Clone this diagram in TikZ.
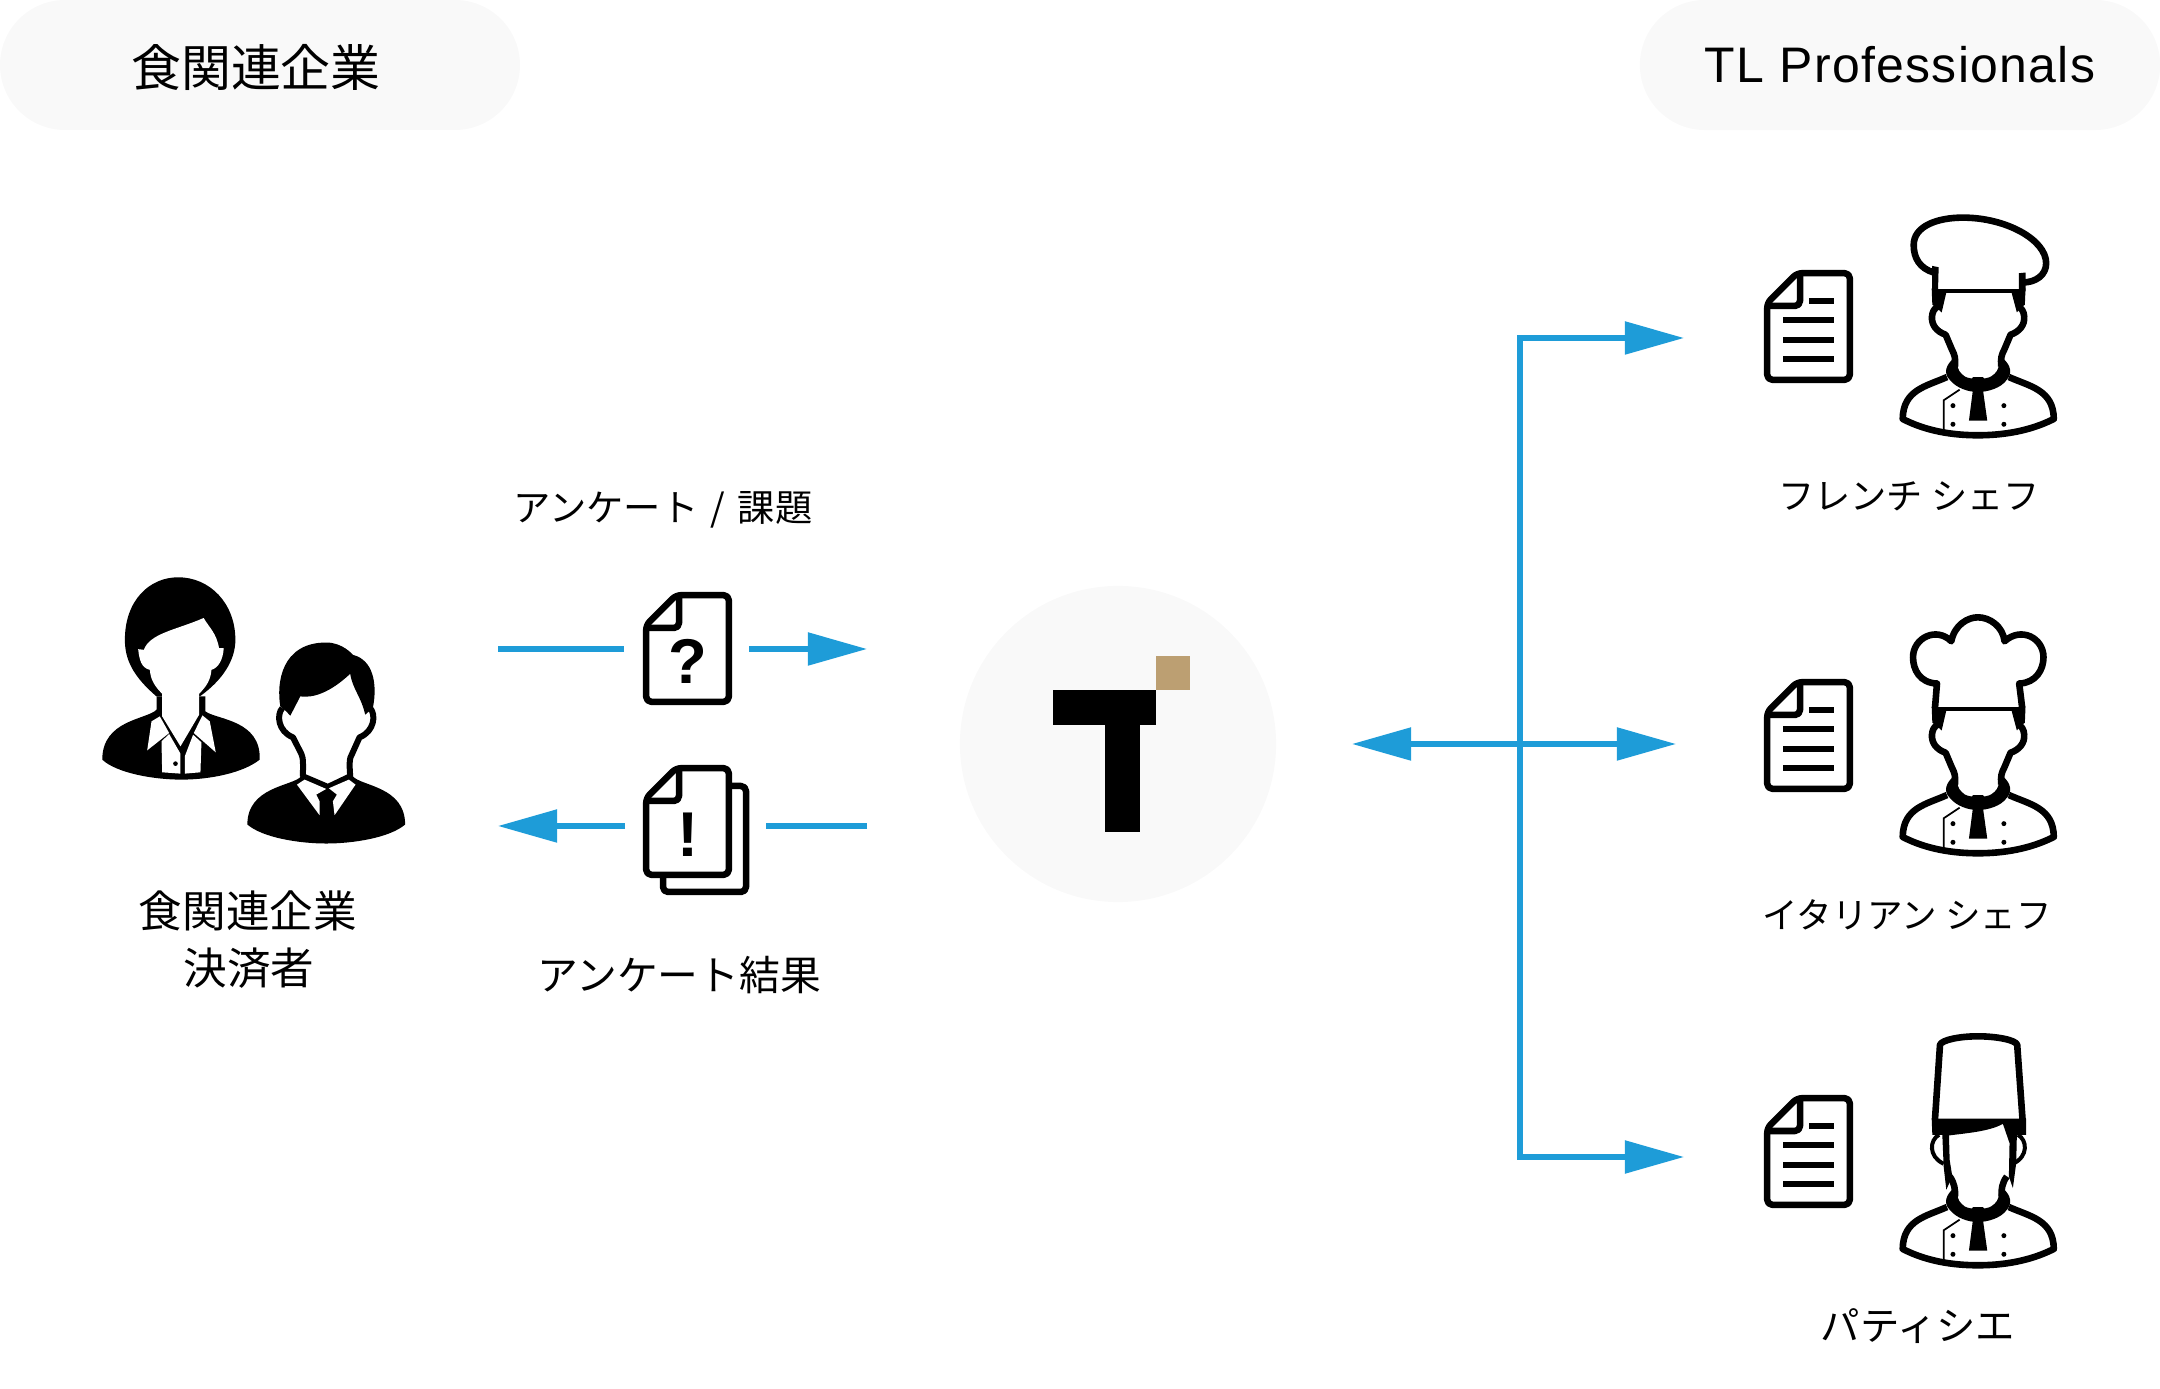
\documentclass[tikz,border=0pt]{standalone}
\usepackage{fontspec}
\setmainfont{Noto Sans CJK JP}
\newfontfamily\latinfont[LetterSpace=2.6]{Liberation Sans}
\newfontfamily\markfont{Liberation Sans}
\usepackage{xcolor}
\usetikzlibrary{arrows.meta,positioning}
\definecolor{flowblue}{HTML}{1E9CD8}
\definecolor{logotan}{HTML}{BC9F72}
\definecolor{softgray}{HTML}{F9F9F9}
\tikzset{
  zoomunit/.style={x=0.0033333cm,y=-0.0033333cm},
  pill/.style={fill=softgray,rounded corners=0.65cm,minimum width=5.2cm,minimum height=1.3cm,inner sep=0pt},
  caption/.style={font=\fontsize{10.3pt}{12pt}\selectfont,inner sep=0pt},
  flowline/.style={flowblue,line width=0.052cm},
  flowarrow/.style={flowline,-{Triangle[length=0.59cm,width=0.32cm]}},
  docline/.style={line width=0.065cm,rounded corners=0.05cm,line join=round},
  chefline/.style={line width=0.066cm,line join=round},
  docicon/.pic={
    \draw[docline,fill=white] (3.2,109.8) -- (85.8,109.8) -- (85.8,3.2) -- (33,3.2) -- (3.2,33) -- cycle;
    \draw[docline] (36,3.2) -- (36,36) -- (3.2,36);
  },
  doclines/.pic={
    \pic at (0,0) {docicon};
    \foreach \ly in {50,70,89} \draw[line width=0.06cm] (19,\ly) -- (70,\ly);
    \draw[line width=0.06cm] (45,31) -- (70,31);
  },
  % Shoulders, collar and tie of a chef
  chefbust/.pic={
    \begin{scope}[zoomunit]
    \draw[chefline] (682,562) .. controls (620,590) and (550,600) .. (549,688) .. controls (620,725) and (700,737) .. (775,737) .. controls (850,737) and (930,725) .. (1003,688) .. controls (1002,600) and (930,590) .. (868,562);
    \fill (700,508) .. controls (680,525) and (670,550) .. (690,570) .. controls (710,595) and (745,607) .. (775,607) .. controls (805,607) and (845,595) .. (862,570) .. controls (880,550) and (872,525) .. (852,508) -- (838,520) .. controls (838,540) and (830,550) .. (815,560) .. controls (800,570) and (750,570) .. (735,560) .. controls (722,550) and (712,540) .. (714,520) -- cycle;
    \fill (755,572) -- (760,562) -- (790,562) -- (797,572) -- (790,600) -- (803,693) -- (748,693) -- (760,600) -- cycle;
    \draw[line width=0.017cm] (720,600) -- (672,632) -- (672,724);
    \foreach \bx in {700,853} \foreach \by in {648,704} \fill (\bx,\by) circle (7.5);
    \end{scope}
  },
  % Outline of the face under a round hat
  chefface/.pic={
    \begin{scope}[zoomunit]
    \draw[chefline] (706,530) .. controls (708,505) and (705,495) .. (697,480) -- (678,435) .. controls (650,425) and (635,405) .. (637,380) .. controls (638,365) and (645,355) .. (655,350);
    \draw[chefline] (845,530) .. controls (843,505) and (846,495) .. (854,480) -- (873,435) .. controls (901,425) and (916,405) .. (914,380) .. controls (913,365) and (906,355) .. (896,350);
    \fill (636,296) -- (680,308) -- (666,368) -- (650,352) -- (638,345) -- cycle;
    \fill (918,296) -- (876,308) -- (892,368) -- (905,352) -- (916,345) -- cycle;
    \draw[line width=0.04cm] (650,303) -- (905,303);
    \end{scope}
  },
  frenchhat/.pic={
    \begin{scope}[zoomunit]
    \draw[chefline] (642,248) .. controls (600,235) and (582,205) .. (582,165) .. controls (582,110) and (650,83) .. (730,83) .. controls (860,83) and (980,150) .. (980,220) .. controls (980,255) and (950,278) .. (908,278);
    \fill (637,228) -- (657,232) -- (655,305) -- (637,305) -- cycle;
    \fill (898,250) -- (918,248) -- (918,305) -- (898,305) -- cycle;
    \end{scope}
  },
  italianhat/.pic={
    \begin{scope}[zoomunit]
    \draw[chefline] (646,300) -- (652,227) .. controls (600,225) and (580,185) .. (580,148) .. controls (580,90) and (650,55) .. (695,100) .. controls (705,50) and (745,28) .. (775,28) .. controls (810,28) and (850,55) .. (855,100) .. controls (905,55) and (972,90) .. (972,148) .. controls (972,185) and (950,225) .. (899,227) -- (908,300);
    \end{scope}
  },
  % Tall hat and hair of the pastry chef
  pastryhead/.pic={
    \begin{scope}[zoomunit]
    \draw[chefline] (646,298) -- (661,75) .. controls (665,60) and (720,49) .. (775,49) .. controls (830,49) and (890,60) .. (893,75) -- (909,298);
    \fill (636,296) -- (920,296) -- (920,345) -- (892,345) -- (890,430) -- (880,505) -- (868,470) -- (870,370) -- (850,312) .. controls (810,335) and (740,340) .. (688,347) -- (690,420) -- (698,470) -- (680,510) -- (672,440) -- (668,345) -- (638,345) -- cycle;
    \draw[line width=0.04cm] (658,345) .. controls (630,360) and (625,410) .. (672,432);
    \draw[line width=0.04cm] (895,345) .. controls (923,360) and (928,410) .. (880,432);
    \draw[chefline] (690,470) .. controls (705,490) and (707,510) .. (706,530);
    \draw[chefline] (862,470) .. controls (847,490) and (845,510) .. (846,530);
    \end{scope}
  },
}
\begin{document}
\begin{tikzpicture}[x=0.01cm,y=-0.01cm]
\useasboundingbox (0,0) rectangle (2160,1389);

% Header pills
\fill[softgray,rounded corners=0.65cm] (0,0) rectangle (520,130);
\node[inner sep=0pt,font=\fontsize{14.2pt}{16pt}\selectfont] (clientpill) at (256,67) {食関連企業};
\node[pill,font=\fontsize{14.2pt}{16pt}\latinfont] (propill) at (1900,65) {TL Professionals};

% Woman
\begin{scope}[shift={(60,550)},zoomunit]
\fill (290,440) .. controls (220,380) and (195,330) .. (195,270) .. controls (195,150) and (270,82) .. (355,82) .. controls (450,82) and (527,160) .. (527,270) .. controls (527,330) and (490,390) .. (420,440) -- cycle;
\fill (290,440) -- (290,480) .. controls (260,510) and (127,510) .. (127,630) .. controls (170,670) and (280,690) .. (365,690) .. controls (450,690) and (550,670) .. (600,630) .. controls (605,510) and (470,510) .. (437,485) -- (437,440) -- cycle;
\fill[white] (307,500) -- (307,432) .. controls (285,410) and (272,390) .. (270,360) .. controls (245,355) and (238,330) .. (235,298) -- (252,300) .. controls (270,250) and (350,240) .. (430,205) -- (432,205) .. controls (450,235) and (470,250) .. (478,295) -- (492,295) .. controls (490,330) and (475,355) .. (455,360) .. controls (453,390) and (440,410) .. (418,432) -- (418,495) -- (362,590) -- cycle;
\fill[white] (275,515) -- (300,500) -- (328,550) -- (262,602) -- cycle;
\fill[white] (428,497) -- (450,515) -- (468,608) -- (402,550) -- cycle;
\fill[white] (305,575) -- (328,553) -- (362,612) -- (362,672) -- (307,668) -- cycle;
\fill[white] (375,620) -- (400,555) -- (425,578) -- (422,668) -- (375,672) -- cycle;
\fill (347,642) circle (7);
\end{scope}

% Man
\begin{scope}[shift={(60,550)},zoomunit]
\fill (725,680) .. controls (700,710) and (563,710) .. (563,825) .. controls (610,865) and (720,882) .. (800,882) .. controls (880,882) and (990,865) .. (1037,825) .. controls (1037,710) and (905,710) .. (880,680) -- cycle;
\fill[white] (668,440) -- (932,440) -- (932,475) .. controls (950,495) and (945,545) .. (900,563) -- (878,612) .. controls (868,625) and (870,650) .. (872,680) -- (805,712) -- (730,680) .. controls (730,650) and (732,625) .. (725,612) -- (700,563) .. controls (655,545) and (650,495) .. (668,475) -- cycle;
\draw[line width=0.06cm,line join=round] (668,475) .. controls (650,495) and (655,545) .. (700,563) -- (725,612) .. controls (732,625) and (730,650) .. (730,680) -- (805,712) -- (872,680) .. controls (870,650) and (868,625) .. (878,612) -- (900,563) .. controls (945,545) and (950,495) .. (932,475);
\fill (662,470) .. controls (650,400) and (665,278) .. (800,278) .. controls (850,278) and (880,315) .. (880,315) .. controls (940,330) and (955,400) .. (940,475) -- (917,495) .. controls (905,440) and (880,420) .. (872,372) .. controls (810,430) and (760,445) .. (722,440) -- (692,498) -- (680,485) -- cycle;
\fill[white] (712,705) -- (735,690) -- (800,718) -- (770,735) -- (780,755) -- (780,797) -- cycle;
\fill[white] (888,705) -- (868,690) -- (808,716) -- (832,735) -- (820,755) -- (825,797) -- cycle;
\end{scope}

% Left labels
\node[caption,font=\fontsize{12.4pt}{14pt}\selectfont] (clientlabel) at (248,911) {食関連企業};
\node[caption,font=\fontsize{12.4pt}{14pt}\selectfont] (payerlabel) at (249,968) {決済者};
\node[caption,font=\fontsize{10.6pt}{12pt}\selectfont] (surveylabel) at (663,510) {アンケート\,\,/\,\,課題};
\node[caption,font=\fontsize{11.6pt}{13pt}\selectfont] (resultlabel) at (679,975) {アンケート結果};

% Survey and result documents
\pic at (643,592) {docicon};
\node[inner sep=0pt,font=\fontsize{18pt}{20pt}\bfseries\markfont] (qmark) at (688,661) {?};
\draw[docline,fill=white] (663,800) -- (663,892) -- (746,892) -- (746,786) -- (725,786);
\pic at (643,765) {docicon};
\node[inner sep=0pt,font=\fontsize{18pt}{20pt}\bfseries\markfont] (exmark) at (688,835) {!};

% Arrows between client and center
\coordinate (surveyA) at (498,649);
\coordinate (surveyB) at (624,649);
\coordinate (surveyC) at (749,649);
\coordinate (surveyD) at (867,649);
\coordinate (resultA) at (867,826);
\coordinate (resultB) at (766,826);
\coordinate (resultC) at (625,826);
\coordinate (resultD) at (498,826);
\draw[flowline] (surveyA) -- (surveyB);
\draw[flowarrow] (surveyC) -- (surveyD);
\draw[flowline] (resultA) -- (resultB);
\draw[flowarrow] (resultC) -- (resultD);

% Center logo
\node[circle,fill=softgray,minimum size=3.16cm,inner sep=0pt] (hub) at (1118,744) {};
\fill (1053,690) rectangle (1156,725);
\fill (1105,725) rectangle (1140,832);
\fill[logotan] (1156,656) rectangle (1190,690);

% Distribution arrows
\coordinate (busJoin) at (1520,744);
\coordinate (busTop) at (1520,338);
\coordinate (busBottom) at (1520,1157);
\coordinate (topEnd) at (1684,338);
\coordinate (midEnd) at (1676,744);
\coordinate (bottomEnd) at (1684,1157);
\coordinate (hubEnd) at (1352,744);
\draw[flowarrow] (busTop) -- (topEnd);
\draw[flowarrow] (busBottom) -- (bottomEnd);
\draw[flowline,line cap=rect] (busTop) -- (busBottom);
\draw[flowarrow] (busJoin) -- (midEnd);
\draw[flowarrow] (busJoin) -- (hubEnd);

% French chef
\pic at (1764,270) {doclines};
\pic at (1720,190) {chefbust};
\pic at (1720,190) {chefface};
\pic at (1720,190) {frenchhat};
\node[caption] (frenchlabel) at (1909,496) {フレンチ シェフ};

% Italian chef
\pic at (1764,679) {doclines};
\pic at (1720,608) {chefbust};
\pic at (1720,608) {chefface};
\pic at (1720,608) {italianhat};
\node[caption,font=\fontsize{10.1pt}{12pt}\selectfont] (italianlabel) at (1907,915) {イタリアン シェフ};

% Pastry chef
\pic at (1764,1095) {doclines};
\pic at (1720,1020) {chefbust};
\pic at (1720,1020) {pastryhead};
\node[caption,font=\fontsize{11.2pt}{13pt}\selectfont] (pastrylabel) at (1918,1326) {パティシエ};
\end{tikzpicture}
\end{document}
